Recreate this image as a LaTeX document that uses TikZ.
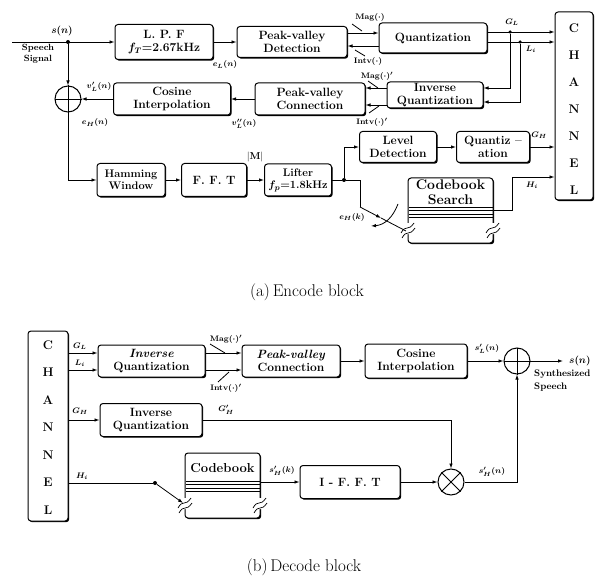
\documentclass[tikz,border=0pt]{standalone}
\usetikzlibrary{arrows.meta,shadows}
\newcommand\bx{\fontsize{12}{13}\selectfont\bfseries\boldmath}
\newcommand\lbl{\fontsize{8}{9}\selectfont\bfseries\boldmath}
\newcommand\chf{\fontsize{12.5}{14}\selectfont\bfseries}
\newcommand\capf{\fontsize{17}{19}\selectfont}
\begin{document}
\begin{tikzpicture}[x=1pt,y=-1pt,
  box/.style={draw, line width=1pt, rounded corners=3pt, fill=white, align=center, font=\bx, inner sep=0pt,
    drop shadow={shadow xshift=1.2pt, shadow yshift=-1.2pt, fill=black, opacity=1}},
  arr/.style={-{Latex[length=5pt,width=3.5pt]}, line width=0.8pt},
  ln/.style={line width=0.8pt},
  dot/.style={circle, fill, inner sep=0pt, minimum size=4pt},
  sum/.style={draw, circle, line width=1pt, minimum size=26pt, inner sep=0pt},
  lab/.style={font=\lbl, inner sep=1pt},
  chl/.style={font=\chf, inner sep=0pt}]
\useasboundingbox (0,0) rectangle (602,580);

% ---------------- ENCODER ----------------
\coordinate (in) at (12,42);
\node[dot] (j1) at (68,42) {};
\node[box, minimum width=98pt, minimum height=35pt] (lpf) at (164,42) {L. P. F\\$f_T$=2.67kHz};
\node[box, minimum width=110pt, minimum height=31pt] (pvd) at (292,42) {Peak-valley\\Detection};
\node[box, minimum width=108pt, minimum height=30pt] (qt) at (433,38) {Quantization};
\node[box, minimum width=38pt, minimum height=188pt] (ch1) at (574,106) {};
\foreach \L [count=\i from 0] in {C,H,A,N,N,E,L}
  \node[chl] (ca\i) at (574,{28+27*\i}) {\L};

\node[box, minimum width=96pt, minimum height=26pt] (iq) at (435,95) {Inverse\\Quantization};
\node[box, minimum width=110pt, minimum height=32pt] (pvc) at (310,99) {Peak-valley\\Connection};
\node[box, minimum width=117pt, minimum height=32pt] (ci) at (172,99) {Cosine\\Interpolation};
\node[sum] (add) at (68,99) {};
\draw[line width=0.8pt] (add.west) -- (add.east) (add.north) -- (add.south);

\node[box, minimum width=68pt, minimum height=33pt, font=\fontsize{11}{12.5}\selectfont\bfseries] (ham) at (131,180) {Hamming\\Window};
\node[box, minimum width=65pt, minimum height=33pt] (fft) at (214,180) {F. F. T};
\node[box, minimum width=67pt, minimum height=32pt, font=\fontsize{11}{12.5}\selectfont\bfseries\boldmath] (lif) at (298,180) {Lifter\\$f_p$=1.8kHz};
\node[dot] (j2) at (344,180) {};
\node[box, minimum width=77pt, minimum height=31pt] (lev) at (398,147) {Level\\Detection};
\node[box, minimum width=73pt, minimum height=31pt] (qz) at (493,147) {Quantiz --\\ation};
\node[box, minimum width=85pt, minimum height=65pt] (cbs) at (450.5,210.5) {};
\node[font=\fontsize{14}{15}\selectfont\bfseries, align=center, inner sep=0pt] (cbst) at (450.5,192) {Codebook\\Search};
\foreach \yy in {207,210.5,214,217.5} \draw[line width=0.6pt] (408.5,\yy) -- (492.5,\yy);
\fill[white] (405,223) rectangle (411,234) (490,223) rectangle (496,234);
\draw[line width=0.7pt] (401,233) .. controls (406,224) and (408,232) .. (414,223)
                        (402,238) .. controls (407,229) and (409,237) .. (415,228)
                        (486,233) .. controls (491,224) and (493,232) .. (499,223)
                        (487,238) .. controls (492,229) and (494,237) .. (500,228);

% coordinates for levels
\coordinate (c32) at (0,32); \coordinate (c33) at (0,33); \coordinate (c42) at (0,42);
\coordinate (c46) at (0,46); \coordinate (c88) at (0,88); \coordinate (c102) at (0,102);
\coordinate (c105) at (0,105); \coordinate (c210) at (0,210);

% connectors encoder
\draw[arr] (in) -- (lpf.west);
\draw[arr] (j1) -- (add.north);
\draw[arr] (lpf) -- (pvd);
\draw[arr] (pvd.east |- c33) -- (qt.west |- c33);
\draw[arr] (qt.west |- c46) -- (pvd.east |- c46);
\draw[ln] (352,24) -- (362,31);
\draw[ln] (355,50) -- (365,56);
\node[lab] (lmag) at (370,18) {Mag$(\cdot)$};
\node[lab] (lint) at (368,62) {Intv$(\cdot)$};
\draw[arr] (qt.east |- c32) -- (ch1.west |- c32);
\draw[arr] (qt.east |- c42) -- (ch1.west |- c42);
\node[dot, minimum size=3.5pt] (t1) at (510,32) {};
\node[dot, minimum size=3.5pt] (t2) at (520,42) {};
\draw[arr] (t1) |- (iq.east |- c88);
\draw[arr] (t2) |- (iq.east |- c102);
\node[lab] (lgl) at (512,22) {$G_L$};
\node[lab] (lli) at (531,49) {$L_i$};
\draw[arr] (iq.west |- c88) -- (pvc.east |- c88);
\draw[arr] (iq.west |- c105) -- (pvc.east |- c105);
\draw[ln] (368,81) -- (378,88);
\draw[ln] (369,113) -- (379,106);
\node[lab] (lmag2) at (377,76) {Mag$(\cdot)'$};
\node[lab] (lint2) at (372,122) {Intv$(\cdot)'$};
\draw[arr] (pvc) -- (ci);
\draw[arr] (ci) -- (add);
\node[lab] (lvl1) at (99,87) {$v_L'(n)$};
\node[lab] (lvl2) at (244,124) {$v_L''(n)$};
\node[lab] (lel) at (225,65) {$e_L(n)$};
\node[lab] (leh) at (95,123) {$e_H(n)$};
\node[lab, font=\fontsize{10}{11}\selectfont\bfseries\boldmath] (lsn) at (62,31) {$s(n)$};
\node[lab, align=center, font=\fontsize{9}{11}\selectfont\bfseries] (lsp) at (38,54) {Speech\\Signal};
\draw[arr] (add.south) |- (ham.west);
\draw[arr] (ham) -- (fft);
\draw[arr] (fft) -- (lif);
\node[lab, font=\fontsize{10}{11}\selectfont\bfseries] (lm) at (255,157) {$|$M$|$};
\draw[ln] (lif.east) -- (j2);
\draw[arr] (j2) |- (lev.west);
\draw[arr] (lev) -- (qz);
\draw[arr] (qz.east) -- (ch1.west |- qz.east);
\node[lab] (lgh) at (539,135) {$G_H$};
\coordinate (sw1) at (360,207);
\coordinate (swm) at (381,218);
\coordinate (sw2) at (406,231);
\draw[ln] (j2) -| (sw1);
\draw[arr] (sw1) -- (swm);
\draw[ln] (swm) -- (sw2);
\coordinate (sw3) at (398,204);
\coordinate (sw4) at (371,226);
\draw[arr] (sw3) .. controls (393,217) and (385,225) .. (sw4);
\node[lab] (lehk) at (352,217) {$e_H(k)$};
\coordinate (hc) at (512,177);
\draw[arr] (cbs.east |- c210) -| (hc) -- (ch1.west |- hc);
\node[lab] (lhi) at (532,185) {$H_i$};

\node[font=\capf] (capa) at (307,292) {(a)\,Encode block};

% ---------------- DECODER ----------------
\node[box, minimum width=40pt, minimum height=190pt] (ch2) at (48,426) {};
\foreach \L [count=\i from 0] in {C,H,A,N,N,E,L}
  \node[chl] (cb\i) at (48,{345+27.5*\i}) {\L};
\node[box, minimum width=107pt, minimum height=32pt] (iq1) at (151.5,361) {\textit{Inverse}\\Quantization};
\node[box, minimum width=98pt, minimum height=32pt] (pvc2) at (291,361) {\textit{Peak-valley}\\Connection};
\node[box, minimum width=102pt, minimum height=34pt] (ci2) at (416,361) {Cosine\\Interpolation};
\node[sum] (add2) at (517,361) {};
\draw[line width=0.8pt] (add2.west) -- (add2.east) (add2.north) -- (add2.south);
\node[box, minimum width=102pt, minimum height=33pt] (iq2) at (151,420) {Inverse\\Quantization};
\node[box, minimum width=75pt, minimum height=65pt] (cb2) at (222.5,485.5) {};
\node[font=\fontsize{13}{14}\selectfont\bfseries, inner sep=0pt] (cb2t) at (222.5,468) {Codebook};
\foreach \yy in {481,484.5,488,491.5} \draw[line width=0.6pt] (185.5,\yy) -- (259.5,\yy);
\fill[white] (182,498) rectangle (188,509) (257,498) rectangle (263,509);
\draw[line width=0.7pt] (178,508) .. controls (183,499) and (185,507) .. (191,498)
                        (179,513) .. controls (184,504) and (186,512) .. (192,503)
                        (253,508) .. controls (258,499) and (260,507) .. (266,498)
                        (254,513) .. controls (259,504) and (261,512) .. (267,503);
\node[box, minimum width=100pt, minimum height=33pt] (ifft) at (350,482) {I - F. F. T};
\node[sum, minimum size=26pt] (mult) at (451,482) {};
\draw[line width=0.8pt] (mult.north west) -- (mult.south east) (mult.north east) -- (mult.south west);

\coordinate (c353) at (0,353); \coordinate (c370) at (0,370); \coordinate (c482) at (0,482);
\draw[arr] (ch2.east |- c353) -- (iq1.west |- c353);
\draw[arr] (ch2.east |- c370) -- (iq1.west |- c370);
\node[lab] (dgl) at (80,346) {$G_L$};
\node[lab] (dli) at (80,363) {$L_i$};
\draw[arr] (iq1.east |- c353) -- (pvc2.west |- c353);
\draw[arr] (iq1.east |- c370) -- (pvc2.west |- c370);
\draw[ln] (210,344) -- (225,353);
\draw[ln] (218,382) -- (229,372);
\node[lab] (dmag) at (226,339) {Mag$(\cdot)'$};
\node[lab] (dint) at (226,388) {Intv$(\cdot)'$};
\draw[arr] (pvc2) -- (ci2);
\draw[arr] (ci2) -- (add2);
\node[lab] (dsl) at (487,349) {$s_L'(n)$};
\coordinate (out) at (563,361);
\draw[arr] (add2) -- (out);
\node[lab, font=\fontsize{10}{11}\selectfont\bfseries\boldmath, anchor=west] (dsn) at (568,361) {$s(n)$};
\node[lab, font=\fontsize{9.5}{13}\selectfont\bfseries, align=left, anchor=west] (dsyn) at (533,381) {Synthesized\\Speech};
\draw[arr] (ch2.east |- iq2.west) -- (iq2.west);
\node[lab] (dgh) at (80,411) {$G_H$};
\draw[arr] (iq2.east) -| (mult.north);
\node[lab] (dgh2) at (226,410) {$G_H'$};
\node[dot] (hd) at (155,483) {};
\coordinate (cbin) at (183,503);
\draw[ln] (ch2.east |- hd) -- (hd);
\draw[arr] (hd) -- (cbin);
\node[lab] (dhi) at (82,476) {$H_i$};
\draw[arr] (cb2.east |- c482) -- (ifft.west);
\node[lab] (dshk) at (282,471) {$s_H'(k)$};
\draw[arr] (ifft) -- (mult);
\draw[arr] (mult.east) -| (add2.south);
\node[lab] (dshn) at (492,472) {$s_H'(n)$};

\node[font=\capf] (capb) at (304,567) {(b)\,Decode block};
\end{tikzpicture}
\end{document}
